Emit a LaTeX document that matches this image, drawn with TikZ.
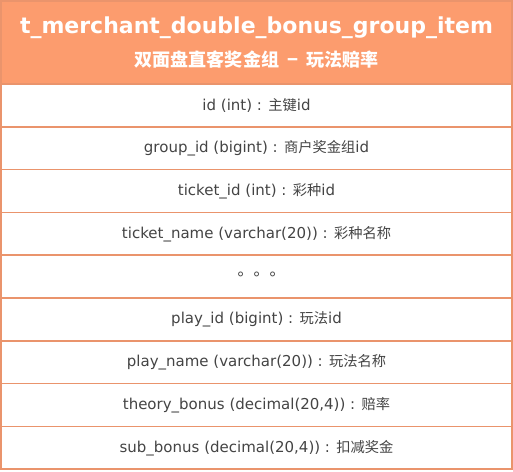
\documentclass[tikz,border=0pt]{standalone}
\usepackage{fontspec}
\usepackage{xcolor}
\setmainfont{DejaVu Sans}
\newfontfamily\cjk{Noto Sans CJK SC}[Scale=0.95]
\newfontfamily\cjkdot{Noto Sans CJK TC}
\usetikzlibrary{positioning}

\definecolor{headfill}{HTML}{FC9C6E}
\definecolor{rowline}{HTML}{EA946C}
\definecolor{fieldtext}{HTML}{444444}

\begin{document}
\begin{tikzpicture}[x=1pt,y=1pt,node distance=0pt]

\tikzstyle{head}=[rectangle,draw=rowline,fill=headfill,line width=1.5pt,outer sep=0pt,inner sep=0pt,minimum width=511pt,minimum height=83pt,text=white,align=center,anchor=north west]
\tikzstyle{field}=[rectangle,draw=rowline,fill=white,line width=1.5pt,outer sep=0pt,inner sep=0pt,minimum width=511pt,minimum height=42.8pt,text=fieldtext,font=\fontsize{15}{18}\selectfont]

\useasboundingbox (0,0) rectangle (513,-471);

\node (table) [head] at (1,-1) {{\fontsize{22}{26}\selectfont\bfseries t\_merchant\_double\_bonus\_group\_item}\\[12pt]
  {\fontsize{19}{22}\selectfont\cjk\bfseries 双面盘直客奖金组\hspace{8pt}−\hspace{8pt}玩法赔率}};

\node (id) [field,below=of table] {id (int) : {\cjk 主键}id};
\node (groupid) [field,below=of id] {group\_id (bigint) : {\cjk 商户奖金组}id};
\node (ticketid) [field,below=of groupid] {ticket\_id (int) : {\cjk 彩种}id};
\node (ticketname) [field,below=of ticketid] {ticket\_name (varchar(20)) : {\cjk 彩种名称}};
\node (more) [field,below=of ticketname] {{\cjkdot\fontsize{16}{18}\selectfont 。。。}};
\node (playid) [field,below=of more] {play\_id (bigint) : {\cjk 玩法}id};
\node (playname) [field,below=of playid] {play\_name (varchar(20)) : {\cjk 玩法名称}};
\node (theory) [field,below=of playname] {theory\_bonus (decimal(20,4)) : {\cjk 赔率}};
\node (subbonus) [field,below=of theory] {sub\_bonus (decimal(20,4)) : {\cjk 扣减奖金}};

\end{tikzpicture}
\end{document}
